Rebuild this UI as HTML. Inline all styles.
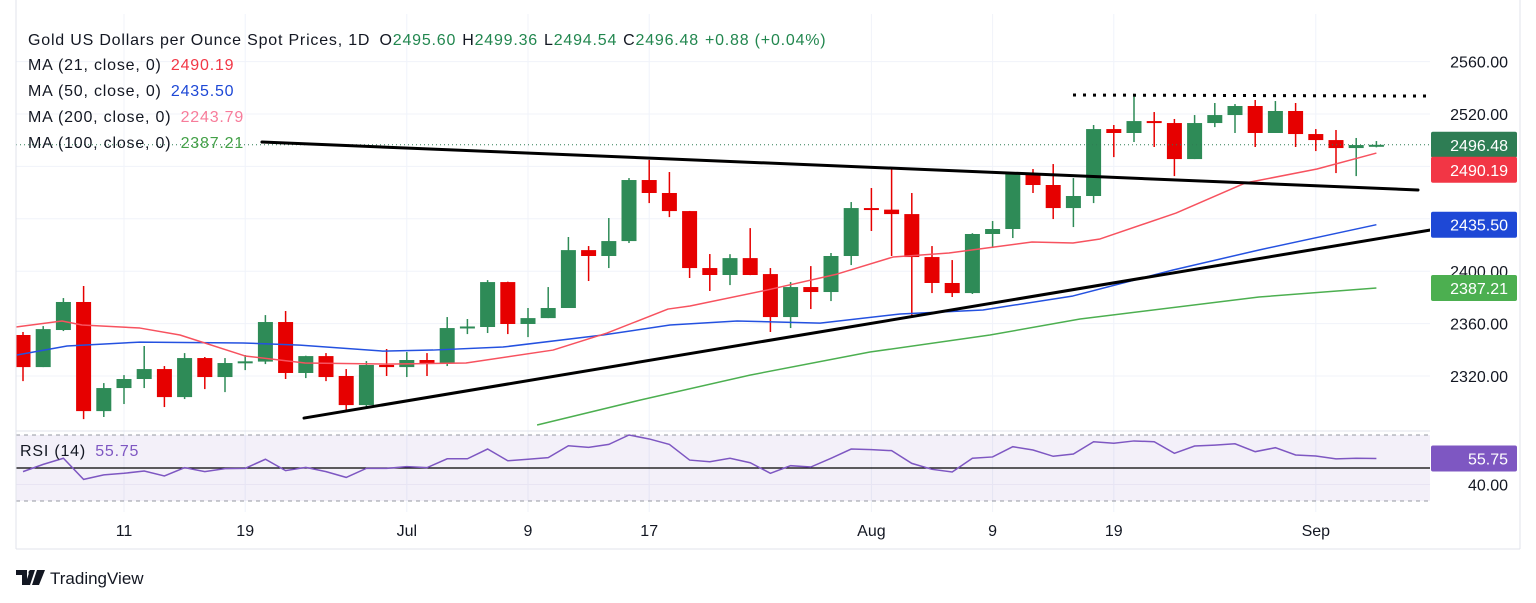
<!DOCTYPE html>
<html><head><meta charset="utf-8"><style>
body{margin:0;background:#fff;}
svg{display:block;font-family:"Liberation Sans","DejaVu Sans",sans-serif;}
</style></head><body>
<svg id="chart" width="1536" height="603" viewBox="0 0 1536 603" xmlns="http://www.w3.org/2000/svg">
<defs><clipPath id="pc"><rect x="16" y="14" width="1414" height="416"/></clipPath>
<clipPath id="rc"><rect x="16" y="432" width="1414" height="80"/></clipPath></defs>
<g id="grid"></g>
<rect x="16" y="435" width="1414" height="66" fill="#7e57c2" fill-opacity="0.09"/>
<g id="candles" clip-path="url(#pc)"></g>
<g id="lines" clip-path="url(#pc)"></g>
<g id="rsi" clip-path="url(#rc)"></g>
<g id="axes"></g>
<g font-size="16" fill="#131722" letter-spacing="0.8">
<text x="28" y="45">Gold US Dollars per Ounce Spot Prices, 1D <tspan dx="4">O</tspan><tspan fill="#22874f">2495.60</tspan><tspan dx="6">H</tspan><tspan fill="#22874f">2499.36</tspan><tspan dx="6">L</tspan><tspan fill="#22874f">2494.54</tspan><tspan dx="6">C</tspan><tspan fill="#22874f">2496.48</tspan><tspan dx="6" fill="#22874f">+0.88 (+0.04%)</tspan></text>
<text x="28" y="70">MA (21, close, 0) <tspan dx="4" fill="#f23645">2490.19</tspan></text>
<text x="28" y="96">MA (50, close, 0) <tspan dx="4" fill="#1e48d6">2435.50</tspan></text>
<text x="28" y="122">MA (200, close, 0) <tspan dx="4" fill="#f77c9a">2243.79</tspan></text>
<text x="28" y="148">MA (100, close, 0) <tspan dx="4" fill="#43a047">2387.21</tspan></text>
<text x="20" y="456">RSI (14) <tspan dx="4" fill="#7e57c2">55.75</tspan></text>
</g>
<g>
<path d="M16 570h11v15h-5v-10h-6z M30 570h5l-5 15h-5z M37 570h8l-6 15h-7z" fill="#131722"/>
<circle cx="31" cy="572.5" r="2.5" fill="#131722"/>
<text x="50" y="584" font-size="17" fill="#131722">TradingView</text>
</g>
</svg>
<script>
const opens=[2351.3,2326.8,2355.1,2376.5,2293.2,2310.8,2317.7,2325.3,2303.9,2333.7,2319.2,2330.7,2331,2361.2,2322.3,2335.2,2320,2297.8,2328.4,2326.8,2332.2,2329.9,2357.4,2357.4,2391.7,2359.7,2364.2,2371.9,2416.1,2411.6,2423,2469.6,2459.7,2445.9,2402.4,2397.1,2410,2397.8,2365,2387.9,2384.1,2411.6,2448.2,2447,2443.6,2410.8,2391,2383.3,2428.4,2432.2,2474.2,2465.8,2448.2,2457.4,2508.5,2505.5,2514.6,2513.1,2485.6,2513.1,2519.2,2526.1,2505.5,2522.3,2504.7,2500.1,2494,2495.6];
const highs=[2353.6,2358.1,2379.5,2388.7,2314.6,2320.7,2342.9,2327.6,2337.5,2334.5,2333.7,2336,2366.5,2369.6,2335.5,2337.5,2325.3,2331.4,2340.6,2338.3,2337.5,2365,2363.5,2393.2,2392,2371.9,2387.9,2426.1,2419.2,2440.6,2471.1,2484.9,2475.7,2446,2413.1,2413,2432.9,2402.4,2391.7,2403.9,2413.9,2452.8,2463.5,2478.7,2459.7,2419.2,2408.5,2429,2438.3,2474.2,2478,2481.8,2471.1,2511.6,2511.6,2535.2,2521.5,2516.2,2519.2,2528.4,2527.6,2530.7,2529.9,2528.4,2508.5,2507.8,2501.7,2499.36];
const lows=[2316.1,2326.8,2354.3,2287.1,2288.7,2298.6,2310.8,2296.3,2302.4,2310,2307.7,2324.5,2329.1,2317.7,2318.4,2316.1,2294,2296.3,2320,2319.2,2320,2327.6,2352,2352.8,2352,2349.7,2364.2,2371.9,2392.5,2402.4,2421.5,2452,2441.3,2394.8,2384.9,2389.4,2397,2353.6,2356.6,2371.1,2377.2,2404.7,2430.7,2411.6,2365,2383.3,2380.3,2382.6,2417.7,2425.3,2459.7,2439.8,2433.7,2452,2487.1,2498.6,2494.8,2472.6,2485.6,2510,2505.5,2494.8,2505.5,2494.8,2491.7,2474.9,2472.6,2494.54];
const closes=[2326.8,2355.8,2376.5,2293.2,2310.8,2317.7,2325.3,2303.9,2333.7,2319.2,2329.9,2331.2,2361.2,2322.3,2335.2,2319.2,2297.8,2328.4,2326.8,2332.2,2329.9,2356.6,2357.8,2391.7,2359.7,2364.2,2371.9,2416.1,2411.6,2423,2469.6,2459.7,2445.9,2402.4,2397.1,2410,2397.1,2365,2387.9,2384.1,2411.6,2448.2,2446.7,2443.6,2410.8,2391,2383.3,2428.4,2432.2,2474.2,2465.8,2448.2,2457.4,2508.5,2505.5,2514.6,2513.1,2485.6,2513.1,2519.2,2526.1,2505.5,2522.3,2504.7,2500.1,2494,2496.3,2496.48];
const ma21Idx=[-0.35,1.93,2.92,5.79,7.77,10.99,13.96,17.97,21.93,26.24,28.91,31.93,33.02,36.83,40.3,43.07,45.84,49.95,51.98,53.32,57.08,60.5,64.06,67];
const ma21Val=[2357.4,2362,2358.9,2356.6,2351.3,2335.3,2329.9,2329.1,2329.9,2339.8,2352.8,2371.1,2373.4,2385.6,2397.8,2410.8,2413.9,2422.3,2421.5,2424.6,2444.4,2467.3,2478,2490.19];
const ma50Idx=[-0.3,2.18,5.79,10.89,13.71,17.82,20.3,23.76,28.71,32.03,35.35,39.46,43.42,47.52,51.98,56.93,61.19,67];
const ma50Val=[2336,2342.9,2345.9,2345.2,2343.6,2339,2339.8,2342.1,2351.3,2358.9,2362,2360.4,2367.3,2370.4,2381.1,2400.9,2416.2,2435.5];
const ma100Idx=[25.45,30.54,35.99,41.93,47.87,52.33,61.19,67];
const ma100Val=[2282.6,2301.6,2320.7,2338.3,2351.3,2363.5,2380.3,2387.21];
const rsiVals=[47.8,52.2,55.9,43.1,45.8,46.8,48.2,45.2,50.2,47.8,49.6,49.8,55.3,48.4,50.4,47.8,44.3,49.8,49.8,50.8,50.2,55.6,55.6,61.5,54.4,55.3,56.3,63.5,62.5,64.3,70,67.6,64.3,54.8,53.8,55.9,53.2,46.8,51.4,50.6,55.9,61.5,61.1,60.5,52.8,49.2,47.6,55.9,56.7,62.9,60.9,57.1,58.5,65.9,65,66.4,65.9,58.9,63.3,63.9,64.7,59.9,62.3,57.9,57.3,55.5,55.9,55.75];
const upperTrendIdx=[11.83,69.06], upperTrendVal=[2498.6,2462];
const lowerTrendIdx=[13.91,69.65], lowerTrendVal=[2287.9,2431.4];
const resistIdx=[51.98,69.65], resistVal=[2534.5,2533.7];
const priceTicks=[2320,2360,2400,2440,2480,2520,2560];
const priceTickLabels=["2320.00","2360.00","2400.00","","","2520.00","2560.00"];
const timeTickIdx=[5,11,19,25,31,42,48,54,64];
const timeTickLabels=["11","19","Jul","9","17","Aug","9","19","Sep"];
const tagVals=[2496.48,2490.19,2435.50,2387.21];
const tagColors=["#2e7d54","#f23645","#1e48d6","#4caf50"];

const NS="http://www.w3.org/2000/svg";
const X=i=>23+i*20.2;
const Y=p=>376-(p-2320)*1.31;
const RY=r=>468-(r-50)*1.65;
function mk(tag,attrs,parent){const e=document.createElementNS(NS,tag);for(const k in attrs)e.setAttribute(k,attrs[k]);parent.appendChild(e);return e;}
const grid=document.getElementById('grid'),cg=document.getElementById('candles'),lg=document.getElementById('lines'),rg=document.getElementById('rsi'),ax=document.getElementById('axes');

priceTicks.forEach((p,k)=>{
  const l=mk('line',{x1:16,x2:1430,y1:Y(p),y2:Y(p),stroke:'#f0f3fa'},grid);
  
  
  if(priceTickLabels[k]){const t=mk('text',{x:1508,y:Y(p)+6,'text-anchor':'end','font-size':16,fill:'#131722'},ax);t.textContent=priceTickLabels[k];
  
  }
});
timeTickIdx.forEach((i,k)=>{
  const l=mk('line',{x1:X(i),x2:X(i),y1:14,y2:512,stroke:'#f0f3fa'},grid);
  
  
  const t=mk('text',{x:X(i),y:536,'text-anchor':'middle','font-size':16,fill:'#131722'},ax);t.textContent=timeTickLabels[k];
  
  
});
mk('line',{x1:16,x2:16,y1:0,y2:549,stroke:'#e0e3eb'},ax);
mk('line',{x1:16,x2:1520,y1:549,y2:549,stroke:'#e0e3eb'},ax);
mk('line',{x1:1520,x2:1520,y1:0,y2:549,stroke:'#e0e3eb'},ax);
mk('line',{x1:16,x2:1430,y1:431,y2:431,stroke:'#e0e3eb'},ax);

const pl=mk('line',{x1:16,x2:1430,y1:Y(closes[closes.length-1]),y2:Y(closes[closes.length-1]),stroke:'#2e7d54','stroke-dasharray':'1 3'},lg);



opens.forEach((o,i)=>{
  const c=closes[i],up=c>=o,col=up?'#2e8b57':'#e60000',x=X(i);
  const w=mk('line',{x1:x,x2:x,y1:Y(highs[i]),y2:Y(lows[i]),stroke:col,'stroke-width':1.5},cg);
  
  
  const top=Y(Math.max(o,c)),h=Math.max(2,Math.abs(Y(o)-Y(c)));
  const b=mk('rect',{x:x-7.5,y:top,width:15,height:h,fill:col},cg);
  
  
});
function poly(idx,val,col,w,name,extra){
  const pts=idx.map((i,k)=>X(i)+','+Y(val[k])).join(' ');
  const p=mk('polyline',Object.assign({points:pts,fill:'none',stroke:col,'stroke-width':w,'stroke-linejoin':'round'},extra||{}),lg);
  
  
}
poly(ma100Idx,ma100Val,'#4caf50',1.5,'ma100-line');
poly(ma50Idx,ma50Val,'#2451e0',1.5,'ma50-line');
poly(ma21Idx,ma21Val,'#f7525f',1.5,'ma21-line');
poly(upperTrendIdx,upperTrendVal,'#000',3,'upper-trendline',{'stroke-linecap':'round'});
poly(lowerTrendIdx,lowerTrendVal,'#000',3,'lower-trendline',{'stroke-linecap':'round'});
poly(resistIdx,resistVal,'#000',3,'resistance-dotted-line',{'stroke-dasharray':'3 7'});

[70,30].forEach(v=>{
  const l=mk('line',{x1:16,x2:1430,y1:RY(v),y2:RY(v),stroke:'#9598a1','stroke-dasharray':'4 4'},rg);
  
  
});
const g40=mk('line',{x1:16,x2:1430,y1:RY(40),y2:RY(40),stroke:'#e8e4f3'},rg);


const m50=mk('line',{x1:16,x2:1430,y1:RY(50),y2:RY(50),stroke:'#000','stroke-width':1.2},rg);


const rl=mk('polyline',{points:rsiVals.map((r,i)=>X(i)+','+RY(r)).join(' '),fill:'none',stroke:'#7e57c2','stroke-width':1.5},rg);


const t40=mk('text',{x:1508,y:RY(40)+6,'text-anchor':'end','font-size':16,fill:'#131722'},ax);t40.textContent='40.00';



function tag(v,y,col,name){
  const r=mk('rect',{x:1431,y:y-13,width:86,height:26,rx:2,fill:col},ax);
  
  
  const t=mk('text',{x:1508,y:y+6,'text-anchor':'end','font-size':16,fill:'#fff'},ax);t.textContent=v.toFixed(2);
  
  
}
tag(tagVals[0],Y(tagVals[0]),tagColors[0],'last-price-tag');
tag(tagVals[1],Y(tagVals[0])+25,tagColors[1],'ma21-tag');
tag(tagVals[2],Y(tagVals[2]),tagColors[2],'ma50-tag');
tag(tagVals[3],Y(tagVals[3]),tagColors[3],'ma100-tag');
tag(rsiVals[rsiVals.length-1],RY(rsiVals[rsiVals.length-1]),'#7e57c2','rsi-tag');
</script>
</body></html>
